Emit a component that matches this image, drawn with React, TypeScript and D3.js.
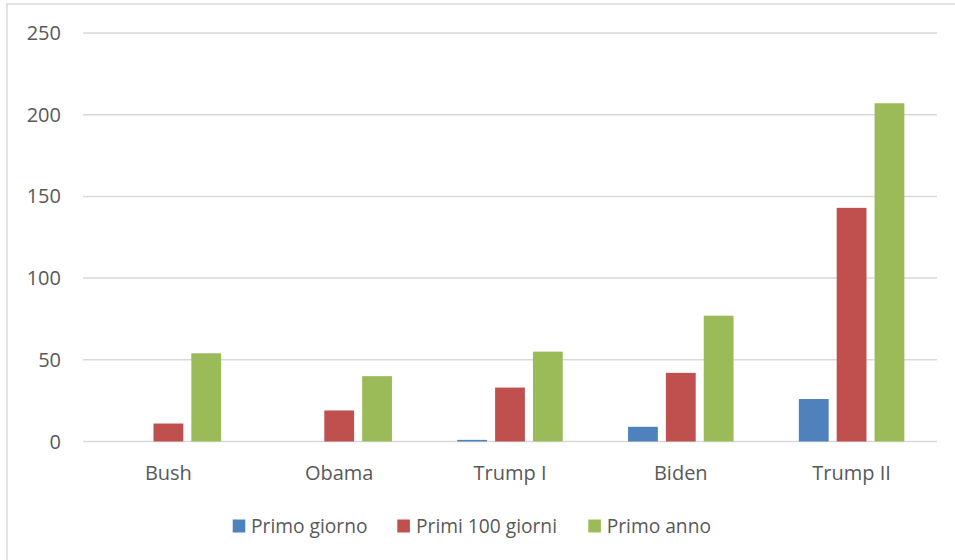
import React from "react";
import * as d3 from "d3";

const categories = ["Bush", "Obama", "Trump I", "Biden", "Trump II"];
const seriesNames = ["Primo giorno", "Primi 100 giorni", "Primo anno"];
const primoGiorno = [0, 0, 1, 9, 26];
const primi100Giorni = [11, 19, 33, 42, 143];
const primoAnno = [54, 40, 55, 77, 207];
const yTicks = [0, 50, 100, 150, 200, 250];
const colors = ["#4F81BD", "#C0504D", "#9BBB59"];

const W = 955;
const H = 560;
const plot = { left: 83, right: 937, top: 33, bottom: 441.5 };
const FONT = "'Open Sans', sans-serif";
const TEXT = "#595959";

export default function App() {
  const seriesValues = [primoGiorno, primi100Giorni, primoAnno];

  const y = d3.scaleLinear().domain([0, 250]).range([plot.bottom, plot.top]);
  const x0 = d3.scaleBand<string>().domain(categories).range([plot.left, plot.right]).padding(0);

  // Bar width and gaps expressed as Excel-style gap width / overlap
  const band = x0.bandwidth();
  const gapWidth = 2.19;
  const overlap = -0.27;
  const barW = band / (3 + 2 * -overlap + gapWidth);
  const innerGap = -overlap * barW;
  const groupW = 3 * barW + 2 * innerGap;
  const offset = (band - groupW) / 2;
  const x1 = d3
    .scaleBand<number>()
    .domain([0, 1, 2])
    .range([offset, offset + groupW])
    .paddingInner(innerGap / (barW + innerGap))
    .paddingOuter(0);

  const legendItems = [
    { sq: 232.7, tx: 251 },
    { sq: 397.3, tx: 416 },
    { sq: 588.3, tx: 606.7 },
  ];

  return (
    <svg
      width={W}
      height={H}
      style={{ position: "absolute", left: 0, top: 0, background: "#fff" }}
      fontFamily={FONT}
    >
      <rect x={7} y={4} width={W} height={H} fill="#fff" stroke="#d9d9d9" strokeWidth={1.5} />

      {yTicks.map((t) => (
        <g key={t}>
          <line x1={plot.left} x2={plot.right} y1={y(t)} y2={y(t)} stroke="#d9d9d9" strokeWidth={1.5} />
          <text x={61} y={y(t)} dy="0.35em" textAnchor="end" fontSize={20} fill={TEXT}>
            {t}
          </text>
        </g>
      ))}

      {categories.map((c, ci) => (
        <g key={c}>
          {seriesValues.map((vals, si) => {
            const v = vals[ci];
            if (v <= 0) return null;
            const bx = (x0(c) ?? 0) + (x1(si) ?? 0);
            return (
              <rect
                key={si}
                x={bx}
                y={y(v)}
                width={x1.bandwidth()}
                height={y(0) - y(v)}
                fill={colors[si]}
              />
            );
          })}
          <text
            x={(x0(c) ?? 0) + band / 2}
            y={480}
            textAnchor="middle"
            fontSize={20}
            fill={TEXT}
          >
            {c}
          </text>
        </g>
      ))}

      {seriesNames.map((n, i) => (
        <g key={n}>
          <rect x={legendItems[i].sq} y={519.5} width={12.6} height={13} fill={colors[i]} />
          <text x={legendItems[i].tx} y={532.5} fontSize={19.2} fill={TEXT}>
            {n}
          </text>
        </g>
      ))}
    </svg>
  );
}
